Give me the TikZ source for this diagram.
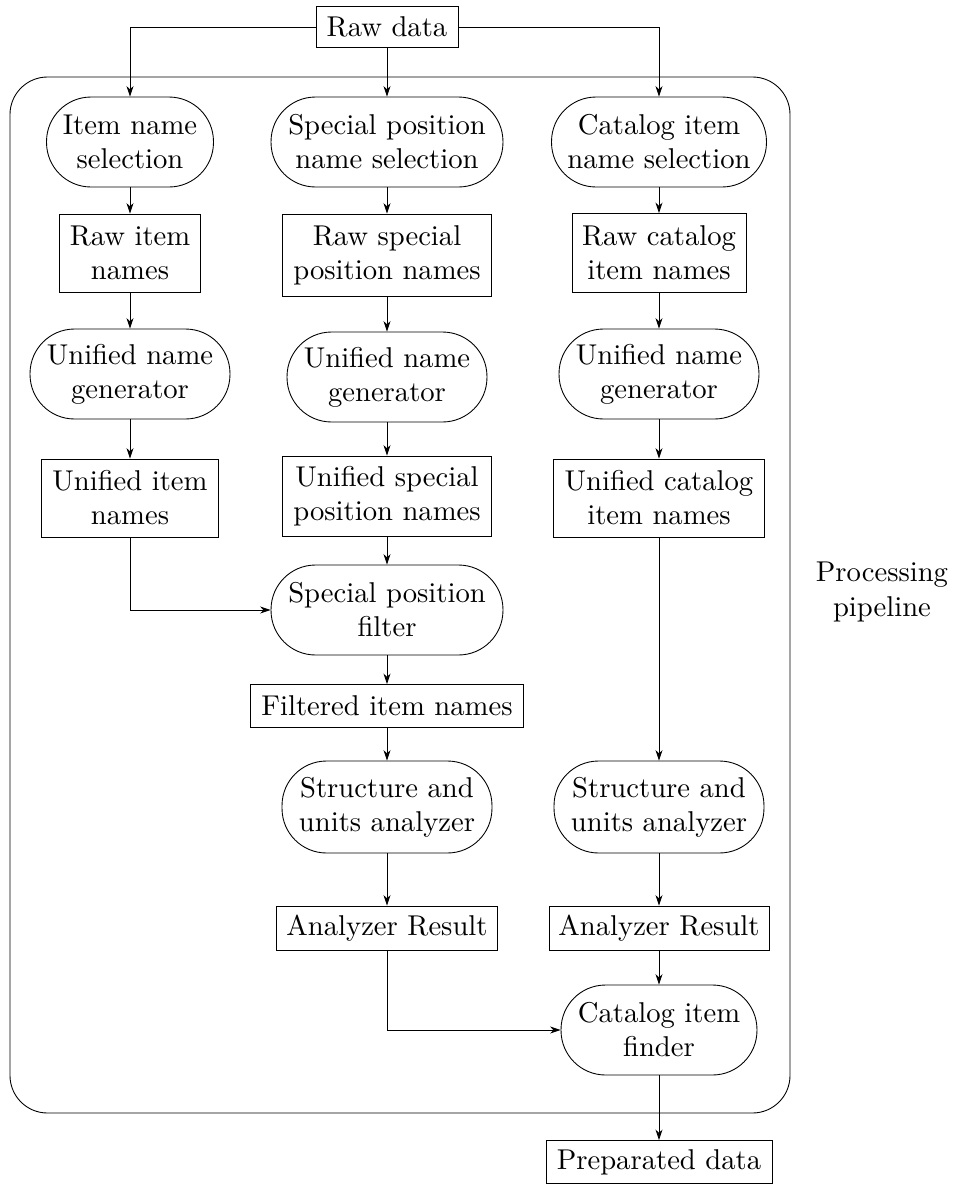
\documentclass[tikz,border=0pt]{standalone}
\usepackage{fontspec}
\setmainfont{lmroman10-regular.otf}
\usetikzlibrary{arrows.meta}
\begin{document}
\begin{tikzpicture}[x=0.02cm, y=-0.02cm,
  every node/.style={font=\fontsize{16.3}{19.4}\selectfont, align=center, inner sep=2pt},
  box/.style={draw, rectangle},
  term/.style={draw, rectangle, rounded corners=0.89cm, minimum height=1.8cm},
  flow/.style={-{Stealth[length=6pt,width=4pt]}},
  line width=0.5pt]
\useasboundingbox (0,0) rectangle (955,1191);

% pipeline frame
\draw[rounded corners=0.75cm] (10,77) rectangle (790,1113);
\node (pipe) at (882,592) {Processing\\pipeline};

% input
\node[box, minimum width=2.84cm, minimum height=0.82cm] (raw) at (387,27) {Raw data};

% left column
\node[term, minimum width=3.34cm] (sel1) at (130,142) {Item name\\selection};
\node[box, minimum width=2.82cm, minimum height=1.56cm] (rn1) at (130,253) {Raw item\\names};
\node[term, minimum width=4.0cm] (gen1) at (130,374) {Unified name\\generator};
\node[box, minimum width=3.54cm, minimum height=1.56cm] (un1) at (130,498) {Unified item\\names};

% middle column
\node[term, minimum width=4.64cm] (sel2) at (387,142) {Special position\\name selection};
\node[box, minimum width=4.18cm, minimum height=1.64cm] (rn2) at (387,255) {Raw special\\position names};
\node[term, minimum width=4.0cm] (gen2) at (387,377) {Unified name\\generator};
\node[box, minimum width=4.18cm, minimum height=1.6cm] (un2) at (387,496) {Unified special\\position names};
\node[term, minimum width=4.64cm] (filt) at (387,610) {Special position\\filter};
\node[box, minimum width=5.46cm, minimum height=0.86cm] (fin) at (387,706) {Filtered item names};
\node[term, minimum width=4.2cm, minimum height=1.84cm] (ana2) at (387,807) {Structure and\\units analyzer};
\node[box, minimum width=4.42cm, minimum height=0.88cm] (res2) at (387,928) {Analyzer Result};

% right column
\node[term, minimum width=4.3cm] (sel3) at (659,142) {Catalog item\\name selection};
\node[box, minimum width=3.48cm, minimum height=1.58cm] (rn3) at (659,253) {Raw catalog\\item names};
\node[term, minimum width=4.0cm] (gen3) at (659,374) {Unified name\\generator};
\node[box, minimum width=4.22cm, minimum height=1.56cm] (un3) at (659,498) {Unified catalog\\item names};
\node[term, minimum width=4.2cm, minimum height=1.84cm] (ana3) at (659,807) {Structure and\\units analyzer};
\node[box, minimum width=4.4cm, minimum height=0.88cm] (res3) at (659,928) {Analyzer Result};
\node[term, minimum width=3.92cm] (find) at (659,1030) {Catalog item\\finder};

% output
\node[box, minimum width=4.52cm, minimum height=0.86cm] (out) at (659,1162) {Preparated data};

% connectors
\draw[flow] (raw.west) -| (sel1.north);
\draw[flow] (raw.south) -- (sel2.north);
\draw[flow] (raw.east) -| (sel3.north);

\draw[flow] (sel1) -- (rn1);
\draw[flow] (rn1) -- (gen1);
\draw[flow] (gen1) -- (un1);

\draw[flow] (sel2) -- (rn2);
\draw[flow] (rn2) -- (gen2);
\draw[flow] (gen2) -- (un2);
\draw[flow] (un2) -- (filt);
\draw[flow] (un1.south) |- (filt.west);
\draw[flow] (filt) -- (fin);
\draw[flow] (fin) -- (ana2);
\draw[flow] (ana2) -- (res2);

\draw[flow] (sel3) -- (rn3);
\draw[flow] (rn3) -- (gen3);
\draw[flow] (gen3) -- (un3);
\draw[flow] (un3) -- (ana3);
\draw[flow] (ana3) -- (res3);
\draw[flow] (res3) -- (find);
\draw[flow] (res2.south) |- (find.west);
\draw[flow] (find) -- (out);
\end{tikzpicture}
\end{document}
